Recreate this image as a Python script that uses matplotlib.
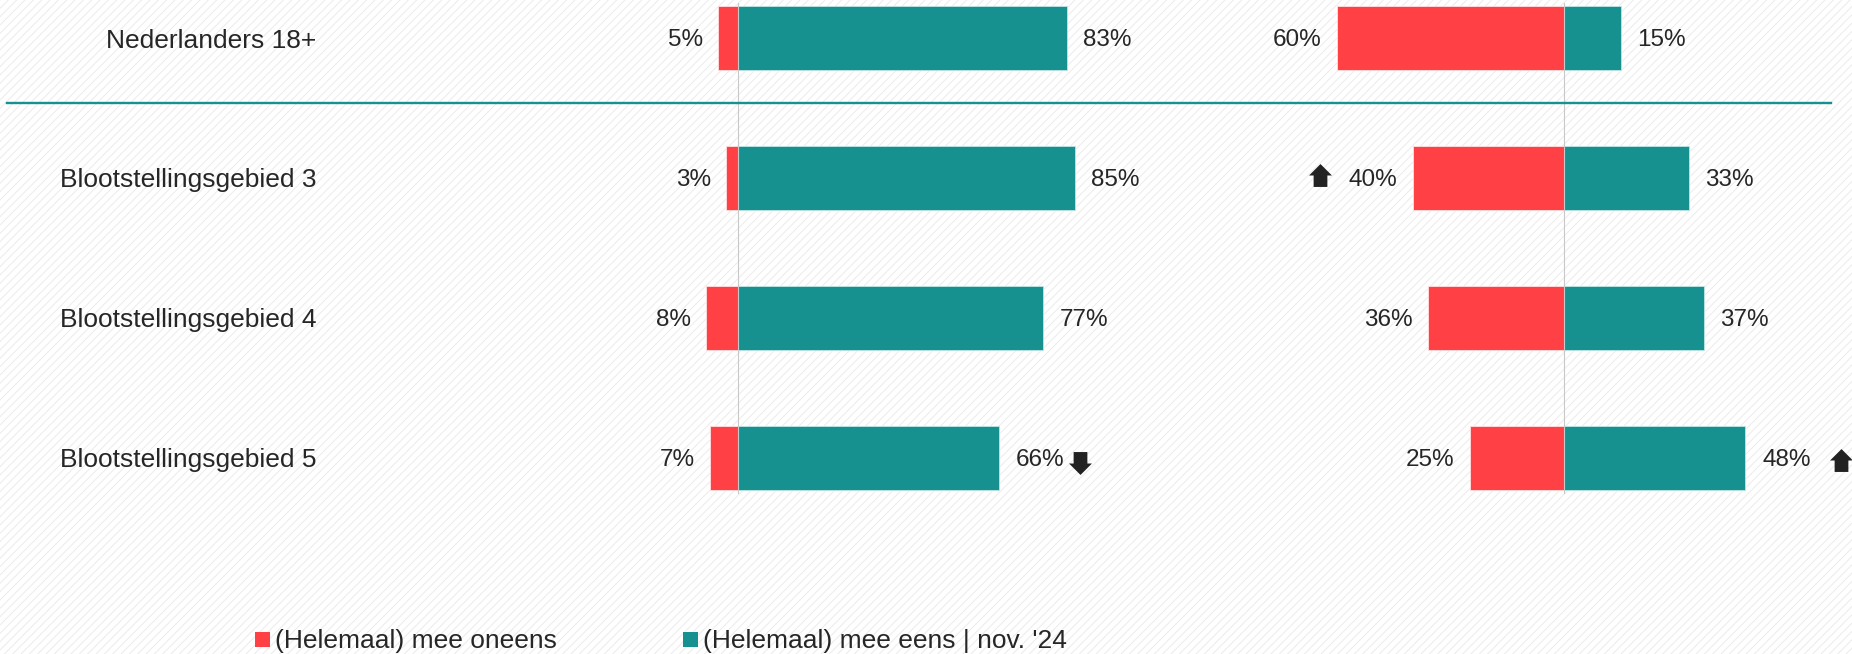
import matplotlib
matplotlib.use('Agg')
import matplotlib.pyplot as plt
import matplotlib.transforms as mtransforms
from matplotlib.path import Path
from matplotlib.patches import Rectangle
from matplotlib.lines import Line2D

# ---------------- data ----------------
categories = ['Nederlanders 18+', 'Blootstellingsgebied 3',
              'Blootstellingsgebied 4', 'Blootstellingsgebied 5']
left_oneens = [5, 3, 8, 7]
left_eens = [83, 85, 77, 66]
right_oneens = [60, 40, 36, 25]
right_eens = [15, 33, 37, 48]
legend_labels = ['(Helemaal) mee oneens', "(Helemaal) mee eens | nov. '24"]
# significance arrows: (panel, row, side, direction)
sig_arrows = [('left', 3, 'eens', 'down'),
              ('right', 1, 'oneens', 'up'),
              ('right', 3, 'eens', 'up')]

# ---------------- style ----------------
RED = '#FF4044'
TEAL = '#17918F'
TXT = '#262626'
plt.rcParams['font.family'] = ['Liberation Sans', 'DejaVu Sans']
plt.rcParams['hatch.linewidth'] = 0.7

W, H, DPI = 1852, 654, 100
fig = plt.figure(figsize=(W / DPI, H / DPI), dpi=DPI)

# hatched background
bg = Rectangle((0, 0), 1, 1, transform=fig.transFigure, facecolor='white',
               edgecolor='#ebebeb', hatch='////', lw=0, zorder=-10)
fig.patches.append(bg)

ROW_PX = 140.0
TOP_PX = 38.0
ylim = ((H - TOP_PX) / ROW_PX, -TOP_PX / ROW_PX)


def make_axes(x0, x1, zero, scale):
    ax = fig.add_axes([x0 / W, 0, (x1 - x0) / W, 1])
    ax.set_xlim((x0 - zero) / scale, (x1 - zero) / scale)
    ax.set_ylim(*ylim)
    ax.axis('off')
    ax.patch.set_alpha(0)
    return ax


axL = make_axes(560, 1150, 738, 3.96)
axR = make_axes(1240, 1852, 1564, 3.78)

bar_h = 64 / ROW_PX
ypos = list(range(len(categories)))

for ax, neg, pos in ((axL, left_oneens, left_eens), (axR, right_oneens, right_eens)):
    ax.barh(ypos, [-v for v in neg], height=bar_h, color=RED,
            edgecolor='#ffe0e0', lw=0.6, zorder=2)
    ax.barh(ypos, pos, height=bar_h, color=TEAL,
            edgecolor='#bfe6e5', lw=0.6, zorder=2)
    ax.plot([0, 0], [-0.25, 3.25], color='#c8c8c8', lw=0.8, zorder=3)
    for y, v in zip(ypos, neg):
        ax.annotate(f'{v}%', xy=(-v, y), xytext=(-11, 0), textcoords='offset points',
                    ha='right', va='center_baseline', fontsize=17.5, color=TXT)
    for y, v in zip(ypos, pos):
        ax.annotate(f'{v}%', xy=(v, y), xytext=(12, 0), textcoords='offset points',
                    ha='left', va='center_baseline', fontsize=17.5, color=TXT)

# category labels
cat_x_px = [106, 60, 60, 60]
tr = mtransforms.blended_transform_factory(fig.transFigure, axL.transData)
for y, (lab, xp) in enumerate(zip(categories, cat_x_px)):
    fig.text(xp / W, y, lab, transform=tr, ha='left', va='center_baseline',
             fontsize=19, color=TXT)

# separator line under first row
fig.add_artist(Line2D([7 / W, 1831 / W], [1 - 103 / H] * 2, color=TEAL, lw=1.7))

# significance arrows
up_verts = [(-0.6, -1), (0.6, -1), (0.6, 0.0), (1, 0.0), (0, 1),
            (-1, 0.0), (-0.6, 0.0), (-0.6, -1)]
up_path = Path(up_verts, closed=True)
down_path = Path([(x, -y) for x, y in up_verts], closed=True)
arrow_offsets_px = {('left', 3): (81, -5), ('right', 1): (-93, 3), ('right', 3): (96, -2)}
panels = {'left': (axL, left_oneens, left_eens), 'right': (axR, right_oneens, right_eens)}
for panel, row, side, direction in sig_arrows:
    ax, neg, pos = panels[panel]
    x = -neg[row] if side == 'oneens' else pos[row]
    dx, dy = arrow_offsets_px[(panel, row)]
    t = ax.transData + mtransforms.ScaledTranslation(dx / DPI, dy / DPI, fig.dpi_scale_trans)
    ax.plot([x], [row], marker=up_path if direction == 'up' else down_path,
            markersize=16.5, color='#222222', mew=0, transform=t, clip_on=False, zorder=4)

# legend
handles = [Line2D([], [], marker='s', ls='', color=RED, markersize=10.8, mew=0),
           Line2D([], [], marker='s', ls='', color=TEAL, markersize=10.8, mew=0)]
leg = fig.legend(handles, legend_labels, ncol=2, loc='center left',
                 bbox_to_anchor=(254 / W, 1 - 641 / H), frameon=False,
                 handlelength=0.57, handletextpad=0.22, columnspacing=4.75,
                 borderpad=0, borderaxespad=0, fontsize=19, labelcolor=TXT)

fig.savefig('out.png', dpi=DPI)
